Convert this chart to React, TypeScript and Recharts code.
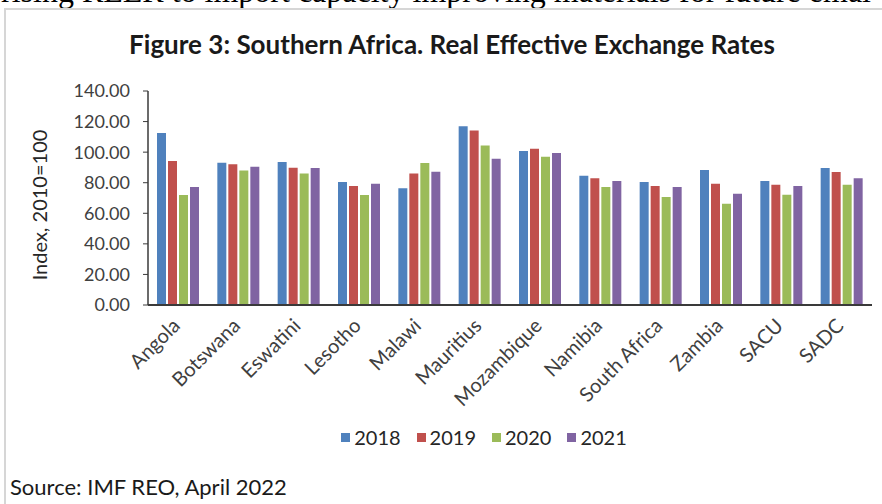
import { BarChart, Bar, XAxis, YAxis } from "recharts"

const categories = [
  "Angola",
  "Botswana",
  "Eswatini",
  "Lesotho",
  "Malawi",
  "Mauritius",
  "Mozambique",
  "Namibia",
  "South Africa",
  "Zambia",
  "SACU",
  "SADC",
]
const years = ["2018", "2019", "2020", "2021"]
const reer2018 = [112.5, 93.0, 93.5, 80.4, 76.3, 117.0, 100.7, 84.6, 80.4, 88.3, 81.1, 89.6]
const reer2019 = [94.2, 92.0, 89.8, 77.8, 86.1, 114.2, 102.2, 83.0, 77.8, 79.3, 78.7, 87.0]
const reer2020 = [72.0, 88.0, 86.0, 72.0, 92.9, 104.4, 97.0, 77.2, 70.6, 66.3, 72.1, 78.7]
const reer2021 = [77.2, 90.5, 89.6, 79.3, 87.2, 95.7, 99.4, 81.1, 77.2, 72.8, 77.8, 83.0]
const yTicks = [0, 20, 40, 60, 80, 100, 120, 140]

const colors = ["#4F81BD", "#C0504D", "#9BBB59", "#8064A2"]
const series = [reer2018, reer2019, reer2020, reer2021]

const data = categories.map((name, i) => {
  const row: Record<string, string | number> = { name }
  years.forEach((y, k) => {
    row[y] = series[k][i]
  })
  return row
})

const FONT = "Lato, 'Open Sans', sans-serif"

function CategoryTick(props: any) {
  const { x, y, payload } = props
  return (
    <g transform={`translate(${x + 3},${y + 22}) rotate(-45)`}>
      <text x={0} y={0} textAnchor="end" fill="#404040" fontSize={20} fontFamily={FONT}>
        {payload.value}
      </text>
    </g>
  )
}

function YTitle() {
  const cx = 39
  const cy = 205
  return (
    <text
      x={cx}
      y={cy}
      transform={`rotate(-90 ${cx} ${cy})`}
      textAnchor="middle"
      dominantBaseline="central"
      fill="#262626"
      fontSize={20}
      fontFamily={FONT}
    >
      Index, 2010=100
    </text>
  )
}

export default function App() {
  return (
    <div
      style={{
        position: "absolute",
        left: 0,
        top: 0,
        width: 882,
        height: 504,
        background: "#fff",
        overflow: "hidden",
      }}
    >
      <svg width={882} height={8} style={{ position: "absolute", left: 0, top: 0 }}>
        <text x={1} y={2} fontFamily="'Liberation Serif', serif" fontSize={32} fill="#000">
          rising REER to import capacity improving materials for future emai
        </text>
      </svg>
      <div
        style={{
          position: "absolute",
          left: 4,
          top: 8,
          width: 900,
          height: 520,
          border: "2px solid #d6d6d6",
          boxSizing: "border-box",
        }}
      />
      <div
        style={{
          position: "absolute",
          left: 0,
          top: 28,
          width: 904,
          textAlign: "center",
          fontFamily: FONT,
          fontWeight: 700,
          fontSize: 26,
          color: "#1a1a1a",
          whiteSpace: "nowrap",
        }}
      >
        Figure 3: Southern Africa. Real Effective Exchange Rates
      </div>
      <div style={{ position: "absolute", left: 0, top: 0 }}>
        <BarChart
          width={882}
          height={504}
          data={data}
          margin={{ top: 91, right: 10, bottom: 119, left: 48 }}
          barSize={9}
          barGap={2}
        >
          <XAxis
            dataKey="name"
            interval={0}
            height={80}
            tickLine={false}
            tickSize={0}
            tickMargin={0}
            axisLine={{ stroke: "#3a3a3a", strokeWidth: 2 }}
            tick={<CategoryTick />}
          />
          <YAxis
            width={100}
            domain={[0, 140]}
            ticks={yTicks}
            interval={0}
            tickFormatter={(v: number) => v.toFixed(2)}
            axisLine={{ stroke: "#3a3a3a", strokeWidth: 1.5 }}
            tickLine={{ stroke: "#3a3a3a" }}
            tickSize={5}
            tickMargin={13}
            tick={{ fill: "#404040", fontSize: 18, fontFamily: FONT }}
            label={<YTitle />}
          />
          {years.map((y, k) => (
            <Bar key={y} dataKey={y} fill={colors[k]} isAnimationActive={false} />
          ))}
        </BarChart>
      </div>
      <div
        style={{
          position: "absolute",
          left: 0,
          top: 425,
          width: 968,
          display: "flex",
          justifyContent: "center",
          fontFamily: FONT,
          fontSize: 20,
          color: "#262626",
        }}
      >
        {years.map((y, k) => (
          <div key={y} style={{ display: "flex", alignItems: "center", marginRight: k < 3 ? 16 : 0 }}>
            <span
              style={{ display: "inline-block", width: 9, height: 9, background: colors[k], marginRight: 4 }}
            />
            {y}
          </div>
        ))}
      </div>
      <div
        style={{
          position: "absolute",
          left: 10,
          top: 473,
          fontFamily: FONT,
          fontSize: 22,
          color: "#1a1a1a",
        }}
      >
        Source: IMF REO, April 2022
      </div>
    </div>
  )
}
